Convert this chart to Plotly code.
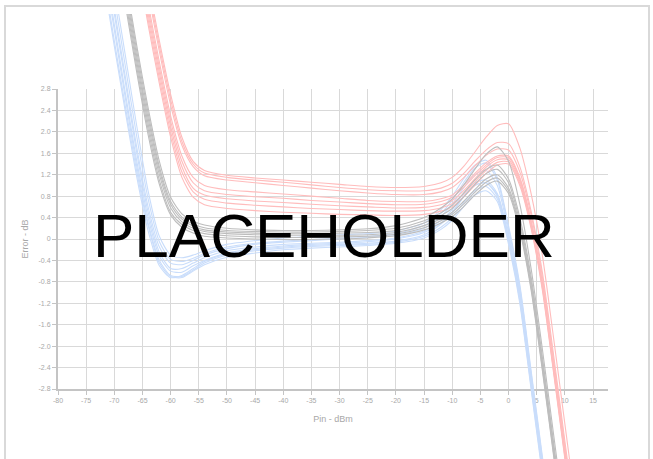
import plotly.graph_objects as go

# Input power (dBm) sample points
pin_dbm = [-72, -70, -68, -66, -64, -62, -60, -58, -56, -54, -50, -45, -40, -35, -30,
           -25, -20, -15, -12, -10, -8, -6, -4, -2, 0, 2, 4, 6, 8, 10, 12]

blue_curves = [
    [5.5, 4.2, 2.9, 1.6, 0.5, -0.25, -0.55, -0.55, -0.45, -0.35, -0.22, -0.15, -0.1, -0.08, -0.06, -0.03, 0.02, 0.15, 0.35, 0.55, 0.85, 1.05, 1.1, 0.85, 0.05, -1.0, -2.6, -4.2, -5.8, -7.4, -9.0],
    [5.2, 3.9, 2.6, 1.35, 0.3, -0.4, -0.68, -0.7, -0.58, -0.45, -0.3, -0.22, -0.17, -0.14, -0.12, -0.1, -0.06, 0.05, 0.22, 0.4, 0.68, 0.9, 0.98, 0.75, -0.05, -1.15, -2.75, -4.35, -5.95, -7.5, -9.1],
    [5.8, 4.5, 3.2, 1.9, 0.75, -0.05, -0.38, -0.42, -0.36, -0.27, -0.15, -0.08, -0.04, -0.01, 0.02, 0.05, 0.1, 0.25, 0.48, 0.72, 1.05, 1.32, 1.42, 1.1, 0.2, -0.9, -2.5, -4.1, -5.7, -7.3, -8.9],
    [4.9, 3.6, 2.35, 1.15, 0.15, -0.5, -0.72, -0.68, -0.55, -0.42, -0.28, -0.2, -0.15, -0.12, -0.1, -0.08, -0.04, 0.08, 0.28, 0.48, 0.78, 1.0, 1.05, 0.8, 0.0, -1.1, -2.7, -4.3, -5.9, -7.5, -9.1],
    [5.6, 4.3, 3.0, 1.7, 0.6, -0.15, -0.45, -0.48, -0.4, -0.3, -0.18, -0.1, -0.06, -0.03, 0.0, 0.03, 0.07, 0.2, 0.42, 0.65, 0.95, 1.2, 1.28, 1.0, 0.12, -0.95, -2.55, -4.15, -5.75, -7.35, -8.95],
    [5.3, 4.0, 2.7, 1.45, 0.4, -0.32, -0.6, -0.62, -0.5, -0.4, -0.26, -0.18, -0.13, -0.1, -0.08, -0.05, 0.0, 0.12, 0.3, 0.5, 0.8, 1.0, 1.05, 0.82, 0.02, -1.05, -2.65, -4.25, -5.85, -7.45, -9.05],
    [6.0, 4.7, 3.4, 2.1, 0.9, 0.05, -0.3, -0.35, -0.3, -0.22, -0.1, -0.03, 0.02, 0.05, 0.08, 0.1, 0.15, 0.3, 0.55, 0.8, 1.12, 1.38, 1.47, 1.15, 0.25, -0.85, -2.45, -4.05, -5.65, -7.25, -8.85],
    [5.0, 3.7, 2.45, 1.25, 0.25, -0.45, -0.7, -0.72, -0.6, -0.48, -0.34, -0.26, -0.2, -0.17, -0.15, -0.12, -0.08, 0.02, 0.18, 0.35, 0.6, 0.82, 0.9, 0.7, -0.1, -1.2, -2.8, -4.4, -6.0, -7.6, -9.2],
]

gray_curves = [
    [7.0, 5.8, 4.55, 3.3, 2.15, 1.2, 0.58, 0.32, 0.2, 0.14, 0.1, 0.08, 0.07, 0.07, 0.07, 0.08, 0.12, 0.25, 0.38, 0.5, 0.7, 0.92, 1.12, 1.2, 0.95, 0.25, -0.85, -2.35, -3.95, -5.55, -7.15],
    [7.3, 6.1, 4.85, 3.6, 2.45, 1.45, 0.78, 0.47, 0.33, 0.26, 0.2, 0.17, 0.16, 0.16, 0.17, 0.19, 0.25, 0.4, 0.58, 0.75, 1.0, 1.3, 1.58, 1.72, 1.45, 0.65, -0.55, -2.05, -3.65, -5.25, -6.85],
    [6.8, 5.6, 4.35, 3.1, 1.95, 1.02, 0.45, 0.22, 0.11, 0.05, 0.02, 0.0, -0.01, -0.01, 0.0, 0.02, 0.06, 0.17, 0.3, 0.42, 0.6, 0.82, 1.0, 1.08, 0.85, 0.15, -0.95, -2.45, -4.05, -5.65, -7.25],
    [7.1, 5.9, 4.65, 3.4, 2.25, 1.28, 0.65, 0.37, 0.24, 0.17, 0.13, 0.11, 0.1, 0.1, 0.11, 0.12, 0.16, 0.3, 0.44, 0.57, 0.78, 1.02, 1.22, 1.3, 1.05, 0.32, -0.78, -2.28, -3.88, -5.48, -7.08],
    [6.9, 5.7, 4.45, 3.2, 2.05, 1.1, 0.5, 0.27, 0.16, 0.1, 0.06, 0.04, 0.03, 0.03, 0.04, 0.05, 0.09, 0.21, 0.34, 0.46, 0.65, 0.87, 1.06, 1.14, 0.9, 0.2, -0.9, -2.4, -4.0, -5.6, -7.2],
    [7.2, 6.0, 4.75, 3.5, 2.35, 1.35, 0.7, 0.41, 0.28, 0.21, 0.16, 0.14, 0.13, 0.13, 0.14, 0.16, 0.2, 0.34, 0.49, 0.63, 0.85, 1.1, 1.3, 1.38, 1.12, 0.4, -0.7, -2.2, -3.8, -5.4, -7.0],
]

red_curves = [
    [9.4, 8.4, 7.2, 6.0, 4.8, 3.7, 2.7, 1.9, 1.45, 1.28, 1.19, 1.14, 1.1, 1.06, 1.02, 0.98, 0.96, 0.98, 1.05, 1.15, 1.35, 1.62, 1.9, 2.12, 2.15, 1.7, 0.85, -0.3, -1.85, -3.45, -5.05],
    [9.0, 8.0, 6.8, 5.6, 4.4, 3.3, 2.3, 1.55, 1.15, 1.0, 0.92, 0.88, 0.84, 0.8, 0.76, 0.72, 0.7, 0.7, 0.75, 0.82, 1.0, 1.22, 1.42, 1.55, 1.55, 1.15, 0.35, -0.8, -2.35, -3.95, -5.55],
    [8.6, 7.6, 6.4, 5.2, 4.0, 2.9, 1.9, 1.15, 0.78, 0.64, 0.57, 0.53, 0.5, 0.48, 0.46, 0.45, 0.44, 0.46, 0.52, 0.6, 0.78, 1.0, 1.22, 1.38, 1.4, 1.0, 0.2, -0.95, -2.5, -4.1, -5.7],
    [9.2, 8.2, 7.0, 5.8, 4.6, 3.5, 2.5, 1.75, 1.35, 1.18, 1.1, 1.05, 1.0, 0.95, 0.9, 0.86, 0.83, 0.83, 0.88, 0.96, 1.14, 1.36, 1.56, 1.68, 1.66, 1.25, 0.45, -0.7, -2.25, -3.85, -5.45],
    [8.8, 7.8, 6.6, 5.4, 4.2, 3.1, 2.1, 1.35, 0.95, 0.82, 0.75, 0.71, 0.68, 0.65, 0.62, 0.6, 0.58, 0.59, 0.64, 0.72, 0.9, 1.12, 1.34, 1.48, 1.48, 1.08, 0.28, -0.87, -2.42, -4.02, -5.62],
    [9.3, 8.3, 7.1, 5.9, 4.7, 3.6, 2.6, 1.82, 1.4, 1.23, 1.15, 1.1, 1.06, 1.01, 0.96, 0.92, 0.9, 0.9, 0.95, 1.04, 1.22, 1.45, 1.66, 1.8, 1.78, 1.35, 0.52, -0.62, -2.17, -3.77, -5.37],
    [8.9, 7.9, 6.7, 5.5, 4.3, 3.2, 2.2, 1.45, 1.05, 0.9, 0.83, 0.79, 0.76, 0.72, 0.69, 0.66, 0.64, 0.65, 0.7, 0.78, 0.96, 1.18, 1.38, 1.52, 1.52, 1.12, 0.32, -0.83, -2.38, -3.98, -5.58],
    [8.7, 7.7, 6.5, 5.3, 4.1, 3.0, 2.0, 1.25, 0.88, 0.74, 0.67, 0.63, 0.6, 0.57, 0.55, 0.53, 0.52, 0.53, 0.58, 0.66, 0.84, 1.06, 1.28, 1.43, 1.44, 1.04, 0.24, -0.91, -2.46, -4.06, -5.66],
]

x_tick_vals = list(range(-80, 20, 5))
x_tick_text = [str(v) for v in x_tick_vals]
y_tick_vals = [-2.8, -2.4, -2.0, -1.6, -1.2, -0.8, -0.4, 0, 0.4, 0.8, 1.2, 1.6, 2.0, 2.4, 2.8]
y_tick_text = ["-2.8", "-2.4", "-2.0", "-1.6", "-1.2", "-0.8", "-0.4", "0", "0.4", "0.8", "1.2", "1.6", "2.0", "2.4", "2.8"]

BLUE = "#c9ddfb"
GRAY = "#bdbdbd"
RED = "#ffbcbc"

fig = go.Figure()
# empty trace so the gridded axis pair (x, y) is created and drawn
fig.add_trace(go.Scatter(x=[None], y=[None], mode="lines", xaxis="x", yaxis="y",
                         hoverinfo="skip", showlegend=False))
for group, color in ((blue_curves, BLUE), (red_curves, RED), (gray_curves, GRAY)):
    for ys in group:
        fig.add_trace(go.Scatter(x=pin_dbm, y=ys, mode="lines", xaxis="x2", yaxis="y2",
                                 line=dict(color=color, width=1.1, shape="spline", smoothing=0.7),
                                 hoverinfo="skip", showlegend=False))

# geometry (pixels)
W, H = 653, 459
L, R, T, B = 58, 45, 14, 0
plot_h = H - T - B
grid_top_px, grid_bot_px = 89, 389
ymin, ymax = -2.8, 2.8
ppu = (grid_bot_px - grid_top_px) / (ymax - ymin)
y_dom = [(H - B - grid_bot_px) / plot_h, (H - B - grid_top_px) / plot_h]
y2_range = [ymin - (H - B - grid_bot_px) / ppu, ymax + (grid_top_px - T) / ppu]
x_range = [-80, 17.66]

axis_font = dict(family="Liberation Sans, Arial, sans-serif", size=7, color="#a8a8a8")

fig.update_layout(
    width=W, height=H,
    margin=dict(l=L, r=R, t=T, b=B, pad=0, autoexpand=False),
    paper_bgcolor="white", plot_bgcolor="rgba(0,0,0,0)",
    showlegend=False,
    xaxis=dict(domain=[0, 1], range=x_range, anchor="y", tickvals=x_tick_vals, ticktext=x_tick_text,
               showgrid=True, gridcolor="#d9d9d9", gridwidth=1, zeroline=False,
               showline=True, linecolor="#c4c4c4", linewidth=2, ticks="outside", ticklen=4,
               tickcolor="#c4c4c4", tickfont=axis_font, automargin=False,
               title=dict(text="Pin - dBm", font=dict(family="Liberation Sans, Arial, sans-serif", size=9, color="#a8a8a8"), standoff=12)),
    yaxis=dict(domain=y_dom, range=[ymin, ymax], anchor="x", tickvals=y_tick_vals, ticktext=y_tick_text,
               showgrid=True, gridcolor="#d9d9d9", gridwidth=1, zeroline=False,
               showline=True, linecolor="#c4c4c4", linewidth=2, ticks="outside", ticklen=4,
               tickcolor="#c4c4c4", tickfont=axis_font, automargin=False,
               title=dict(text="Error - dB", font=dict(family="Liberation Sans, Arial, sans-serif", size=9, color="#a8a8a8"), standoff=8)),
    xaxis2=dict(domain=[0, 1], range=x_range, anchor="y2", visible=False, showgrid=False),
    yaxis2=dict(domain=[0, 1], range=y2_range, anchor="x2", visible=False, showgrid=False),
)

# outer chart border
fig.add_shape(type="rect", xref="paper", yref="paper",
              x0=(5 - L) / (W - L - R), x1=(649 - L) / (W - L - R),
              y0=-0.05, y1=(H - B - 6) / plot_h,
              line=dict(color="#d9d9d9", width=2), fillcolor="rgba(0,0,0,0)", layer="below")

fig.add_annotation(text="PLACEHOLDER", xref="paper", yref="paper",
                   x=(324 - L) / (W - L - R), y=(H - B - 236) / plot_h,
                   xanchor="center", yanchor="middle", showarrow=False,
                   font=dict(family="Liberation Sans, Arial, sans-serif", size=62, color="black"))

fig.write_html("out.html", config={"displayModeBar": False},
               post_script="document.body.style.margin='0';document.body.style.overflow='hidden';")
